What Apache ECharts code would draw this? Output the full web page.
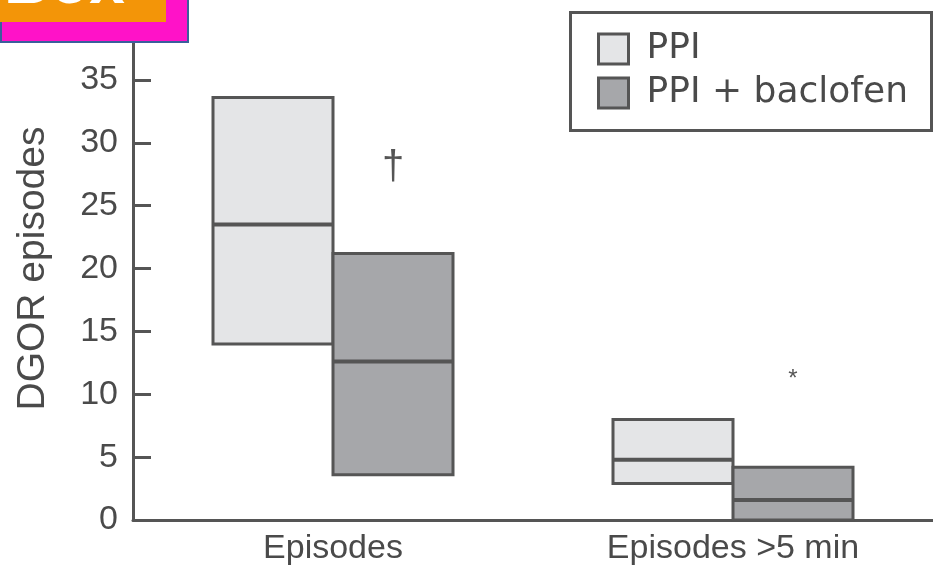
<!DOCTYPE html>
<html>
<head>
<meta charset="utf-8">
<script src="https://cdn.jsdelivr.net/npm/echarts@6/dist/echarts.min.js"></script>
<style>
html,body{margin:0;padding:0;background:#fff;}
#chart{width:933px;height:569px;}
</style>
</head>
<body>
<div id="chart"></div>
<script>
// ---- data ----
const categories = ['Episodes', 'Episodes >5 min'];
const seriesNames = ['PPI', 'PPI + baclofen'];
// [categoryIndex, lower, median, upper]
const ppiBoxes = [[0, 14.0, 23.5, 33.6], [1, 2.9, 4.8, 8.0]];
const baclofenBoxes = [[0, 3.6, 12.6, 21.2], [1, 0, 1.6, 4.2]];
// significance marks over the PPI + baclofen boxes
const markSymbols = ['\u2020', '*'];
const markValues = [[0, 28.0], [1, 11.2]];
const yTicks = [0, 5, 10, 15, 20, 25, 30, 35, 40];

const FONT = 'Liberation Sans';
const TEXT = '#4a4a4a';
const LINE = '#555555';
const fills = ['#e4e5e7', '#a6a7aa'];

function boxRenderer(side, fill) {
  return function (params, api) {
    const cat = api.value(0);
    const lo = api.value(1), med = api.value(2), hi = api.value(3);
    const band = api.size([1, 0])[0];
    const w = band * 0.3;
    const cx = api.coord([cat, 0])[0];
    const x0 = side < 0 ? cx - w : cx;
    const yLo = api.coord([cat, lo])[1];
    const yMed = api.coord([cat, med])[1];
    const yHi = api.coord([cat, hi])[1];
    return {
      type: 'group',
      children: [
        { type: 'rect', shape: { x: x0, y: yHi, width: w, height: yLo - yHi },
          style: { fill: fill, stroke: LINE, lineWidth: 3 } },
        { type: 'line', shape: { x1: x0, y1: yMed, x2: x0 + w, y2: yMed },
          style: { stroke: LINE, lineWidth: 4 } }
      ]
    };
  };
}

const chart = echarts.init(document.getElementById('chart'), null, { renderer: 'canvas' });
chart.setOption({
  animation: false,
  backgroundColor: '#ffffff',
  grid: { left: 133, right: 0, top: 9.5, bottom: 49, containLabel: false },
  xAxis: {
    type: 'category',
    data: categories,
    boundaryGap: true,
    axisLine: { lineStyle: { color: LINE, width: 3 } },
    axisTick: { show: false },
    axisLabel: { fontFamily: FONT, fontSize: 34, color: TEXT, margin: 12 }
  },
  yAxis: {
    type: 'value',
    min: 0, max: 40, interval: 5,
    name: 'DGOR episodes',
    nameLocation: 'middle',
    nameRotate: 90,
    nameGap: 80,
    nameTextStyle: { fontFamily: FONT, fontSize: 39, color: TEXT },
    splitLine: { show: false },
    axisLine: { show: true, lineStyle: { color: LINE, width: 3 } },
    axisTick: { show: true, inside: true, length: 18, lineStyle: { color: LINE, width: 3 } },
    axisLabel: {
      fontFamily: FONT, fontSize: 34, color: TEXT, margin: 15,
      formatter: function (v) { return yTicks.indexOf(v) >= 0 ? String(v) : ''; }
    }
  },
  legend: {
    orient: 'vertical',
    left: 592, top: 26,
    itemWidth: 30, itemHeight: 30, itemGap: 8,
    icon: 'rect',
    textStyle: { fontFamily: 'DejaVu Sans', fontSize: 36, color: TEXT, padding: [0, 0, 0, 13] },
    data: [
      { name: seriesNames[0], itemStyle: { color: fills[0], borderColor: LINE, borderWidth: 3 } },
      { name: seriesNames[1], itemStyle: { color: fills[1], borderColor: LINE, borderWidth: 3 } }
    ]
  },
  series: [
    {
      name: seriesNames[0], type: 'custom',
      itemStyle: { color: fills[0], borderColor: LINE, borderWidth: 3 },
      encode: { x: 0, y: [1, 2, 3] },
      renderItem: boxRenderer(-1, fills[0]),
      data: ppiBoxes
    },
    {
      name: seriesNames[1], type: 'custom',
      itemStyle: { color: fills[1], borderColor: LINE, borderWidth: 3 },
      encode: { x: 0, y: [1, 2, 3] },
      renderItem: boxRenderer(1, fills[1]),
      data: baclofenBoxes
    },
    {
      name: 'marks', type: 'custom', silent: true,
      encode: { x: 0, y: 1 },
      renderItem: function (params, api) {
        const cat = api.value(0), v = api.value(1);
        const band = api.size([1, 0])[0];
        const p = api.coord([cat, v]);
        const sym = markSymbols[params.dataIndex];
        return {
          type: 'text',
          style: {
            x: p[0] + band * 0.15, y: p[1],
            text: sym,
            fill: LINE,
            font: (sym === '*' ? '24px ' : '40px ') + FONT,
            align: 'center', verticalAlign: 'middle'
          }
        };
      },
      data: markValues
    }
  ],
  graphic: [
    { type: 'rect', left: 568, top: 10, shape: { width: 361, height: 118 },
      style: { fill: 'none', stroke: LINE, lineWidth: 3 }, z: 100 },
    { type: 'rect', left: 0, top: -2, shape: { width: 187, height: 43 },
      style: { fill: '#ff12c8', stroke: '#3b5e9c', lineWidth: 2 }, z: 200 },
    { type: 'rect', left: 0, top: -2, shape: { width: 166, height: 24 },
      style: { fill: '#f39508' }, z: 201 },
    { type: 'text', left: 4, top: -47,
      style: { text: 'Box', font: 'bold 64px ' + FONT, fill: '#ffffff' }, z: 202 }
  ]
});
</script>
</body>
</html>
